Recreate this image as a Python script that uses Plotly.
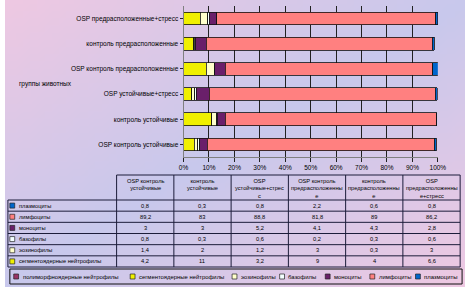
import base64, struct, zlib
import plotly.graph_objects as go

# ---------------- data ----------------
groups = ["OSP контроль устойчивые", "контроль устойчивые", "OSP устойчивые+стресс",
          "OSP контроль предрасположенные", "контроль предрасположенные",
          "OSP предрасположенные+стресс"]
table_headers = ["OSP контроль<br>устойчивые", "контроль<br>устойчивые",
                 "OSP<br>устойчивые+стрес<br>с", "OSP контроль<br>предрасположенны<br>е",
                 "контроль<br>предрасположенны<br>е", "OSP<br>предрасположенны<br>е+стресс"]
x_ticks = [0, 10, 20, 30, 40, 50, 60, 70, 80, 90, 100]

legend_names = ["полиморфноядерные нейтрофилы", "сегментоядерные нейтрофилы", "эозинофилы",
                "базофилы", "моноциты", "лимфоциты", "плазмоциты"]
segmented = [4.2, 11, 3.2, 9, 4, 6.6]
eosinophils = [1.4, 2, 1.2, 3, 0.3, 3]
basophils = [0.8, 0.3, 0.6, 0.2, 0.3, 0.6]
monocytes = [3, 3, 5.2, 4.1, 4.3, 2.8]
lymphocytes = [89.2, 83, 88.8, 81.8, 89, 86.2]
plasmocytes = [0.8, 0.3, 0.8, 2.2, 0.6, 0.8]

# ---------------- styles / layout ----------------
colors = {"полиморфноядерные нейтрофилы": "#993366",
          "сегментоядерные нейтрофилы": "#F0F000",
          "эозинофилы": "#FFFFCC",
          "базофилы": "#F4FFFF",
          "моноциты": "#6A1F6A",
          "лимфоциты": "#FF8080",
          "плазмоциты": "#0066CC"}
series = [("сегментоядерные нейтрофилы", segmented), ("эозинофилы", eosinophils),
          ("базофилы", basophils), ("моноциты", monocytes),
          ("лимфоциты", lymphocytes), ("плазмоциты", plasmocytes)]
FONT = "Liberation Sans, Arial, sans-serif"
FS = 6.5      # axis text
FS_T = 5.7    # table text
FS_L = 5.9    # legend text
W, H = 474, 287
LINE = "#1c1c3a"

# table geometry (pixels)
col_x = [3, 115, 174, 233, 292, 351, 410, 469]
head_top, head_bot, table_bot = 175, 200, 267
# legend geometry (pixels)
legend_box = (5, 269, 471, 284)
legend_x = [9, 129, 234, 283, 330, 376, 423]

def px(x):
    return x / W

def py(y):
    return 1 - y / H

def gradient_png(w, h, c1, c2):
    raw = bytearray()
    for yy in range(h):
        raw.append(0)
        for xx in range(w):
            s = abs(xx / (w - 1) + yy / (h - 1) - 1)
            raw += bytes(int(round(c2[i] + (c1[i] - c2[i]) * s)) for i in range(3))
    def chunk(tag, data):
        return struct.pack(">I", len(data)) + tag + data + struct.pack(">I", zlib.crc32(tag + data) & 0xffffffff)
    png = b"\x89PNG\r\n\x1a\n" + chunk(b"IHDR", struct.pack(">IIBBBBB", w, h, 8, 2, 0, 0, 0)) \
        + chunk(b"IDAT", zlib.compress(bytes(raw))) + chunk(b"IEND", b"")
    return "data:image/png;base64," + base64.b64encode(png).decode()

bg = gradient_png(64, 40, (238, 200, 226), (200, 200, 236))

def fmt(v):
    return (str(int(v)) if float(v).is_integer() else str(v)).replace(".", ",")

fig = go.Figure()
for name, vals in series:
    fig.add_trace(go.Bar(y=groups, x=vals, name=name, orientation="h",
                         marker=dict(color=colors[name], line=dict(color="#111", width=0.8)),
                         showlegend=False))

shapes, annotations = [], []

def line(x0, y0, x1, y1, w=1):
    shapes.append(dict(type="line", xref="paper", yref="paper", x0=px(x0), y0=py(y0),
                       x1=px(x1), y1=py(y1), line=dict(color=LINE, width=w)))

def square(x, y, color, size=5):
    shapes.append(dict(type="rect", xref="paper", yref="paper", x0=px(x), x1=px(x + size),
                       y0=py(y - size / 2), y1=py(y + size / 2), fillcolor=color,
                       line=dict(color="#222", width=0.7)))

def text(t, x, y, xa="center", ya="middle", align="center", size=FS_T):
    annotations.append(dict(text=t, xref="paper", yref="paper", x=px(x), y=py(y),
                            xanchor=xa, yanchor=ya, align=align, showarrow=False,
                            font=dict(family=FONT, size=size, color="black")))

# ---- data table drawn with shapes & annotations ----
rows = list(reversed(series))
n_rows = len(rows)
row_h = (table_bot - head_bot) / n_rows
row_y = [head_bot + i * row_h for i in range(n_rows + 1)]
line(col_x[1], head_top, col_x[-1], head_top)
for yv in row_y:
    line(col_x[0], yv, col_x[-1], yv)
line(col_x[0], head_bot, col_x[0], table_bot)
for xv in col_x[1:]:
    line(xv, head_top, xv, table_bot)
for j, htxt in enumerate(table_headers):
    text(htxt, (col_x[j + 1] + col_x[j + 2]) / 2, head_top + 1, ya="top")
for i, (name, vals) in enumerate(rows):
    yc = (row_y[i] + row_y[i + 1]) / 2
    square(col_x[0] + 2, yc, colors[name])
    text(name, col_x[0] + 9, yc, xa="left", align="left")
    for j, v in enumerate(vals):
        text(fmt(v), (col_x[j + 1] + col_x[j + 2]) / 2, yc)

# ---- legend box ----
lx0, ly0, lx1, ly1 = legend_box
shapes.append(dict(type="rect", xref="paper", yref="paper", x0=px(lx0), x1=px(lx1),
                   y0=py(ly1), y1=py(ly0), line=dict(color="#111", width=1)))
lyc = (ly0 + ly1) / 2
for name, xv in zip(legend_names, legend_x):
    square(xv, lyc, colors[name])
    text(name, xv + 7, lyc, xa="left", align="left", size=FS_L)

# axis title
text("группы животных", 12, 84, xa="left", size=FS)

fig.update_layout(
    width=W, height=H, margin=dict(l=0, r=0, t=0, b=0),
    paper_bgcolor="rgba(0,0,0,0)", plot_bgcolor="#C0C0C0",
    barmode="stack", bargap=0.5,
    font=dict(family=FONT, size=FS, color="black"),
    xaxis=dict(domain=[px(184), px(446)], range=[0, 100], tickvals=x_ticks,
               ticktext=[f"{t}%" for t in x_ticks], showgrid=True, gridcolor="#222",
               gridwidth=1, zeroline=False, ticks="outside", ticklen=4, tickcolor="#222",
               showline=True, linecolor="#808080", tickfont=dict(size=FS)),
    yaxis=dict(domain=[py(157), py(6)], ticks="outside", ticklen=3,
               tickcolor="#222", showline=True, linecolor="#808080",
               tickfont=dict(size=FS)),
    images=[dict(source=bg, xref="paper", yref="paper", x=0, y=1, sizex=1, sizey=1,
                 sizing="stretch", layer="below", xanchor="left", yanchor="top")],
    shapes=shapes,
    annotations=annotations,
)

fig.write_html("out.html", config={"displayModeBar": False},
               post_script="document.body.style.margin='0';")
